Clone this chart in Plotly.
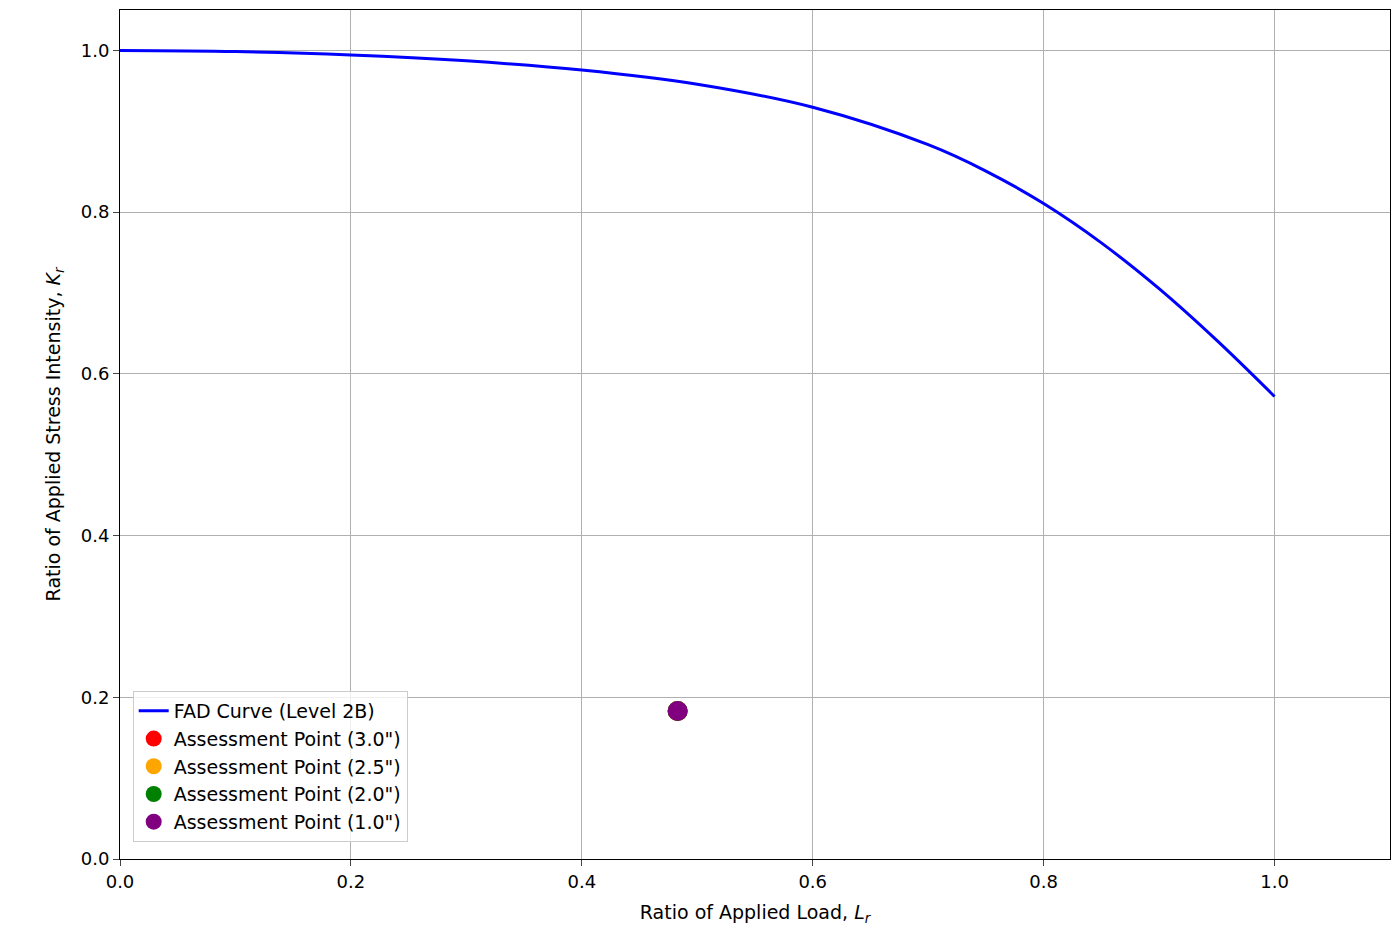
import plotly.graph_objects as go

# FAD curve
lr_curve = [0.0, 0.1, 0.2, 0.3, 0.4, 0.5, 0.6, 0.7, 0.75, 0.8, 0.85, 0.9, 0.95, 1.0]
kr_curve = [1.0, 0.9986, 0.9944, 0.9871, 0.9758, 0.9582, 0.9297, 0.8834, 0.8508, 0.8106, 0.7620, 0.7053, 0.6413, 0.572]

point_names = ['Assessment Point (3.0")', 'Assessment Point (2.5")', 'Assessment Point (2.0")', 'Assessment Point (1.0")']
point_colors = ['red', 'orange', 'green', 'purple']
point_lr = [0.483, 0.483, 0.483, 0.483]
point_kr = [0.183, 0.183, 0.183, 0.183]

fig = go.Figure()
fig.add_trace(go.Scatter(x=lr_curve, y=kr_curve, mode='lines', line_shape='spline',
                         line=dict(color='blue', width=3), name='FAD Curve (Level 2B)'))
for n, c, x, y in zip(point_names, point_colors, point_lr, point_kr):
    fig.add_trace(go.Scatter(x=[x], y=[y], mode='markers', name=n,
                             marker=dict(color=c, size=20)))

axis = dict(showline=True, linecolor='black', mirror=True, ticks='outside', ticklen=6,
            showgrid=True, gridcolor='#b0b0b0', gridwidth=1, zeroline=False,
            tickfont=dict(size=18), tickformat='.1f', dtick=0.2)
fig.update_xaxes(range=[0, 1.1], title=dict(text='Ratio of Applied Load, <i>L<sub>r</sub></i>', font=dict(size=19)), **axis)
fig.update_yaxes(range=[0, 1.05], title=dict(text='Ratio of Applied Stress Intensity, <i>K<sub>r</sub></i>', font=dict(size=19)), **axis)
fig.update_layout(width=1400, height=948, plot_bgcolor='white', paper_bgcolor='white',
                  font=dict(family='DejaVu Sans', color='black'),
                  margin=dict(l=112, r=18, t=2, b=97),
                  legend=dict(x=0.01, y=0.02, xanchor='left', yanchor='bottom',
                              bordercolor='#cccccc', borderwidth=1, bgcolor='rgba(255,255,255,0.8)',
                              font=dict(size=19)))
fig.write_html("out.html")
